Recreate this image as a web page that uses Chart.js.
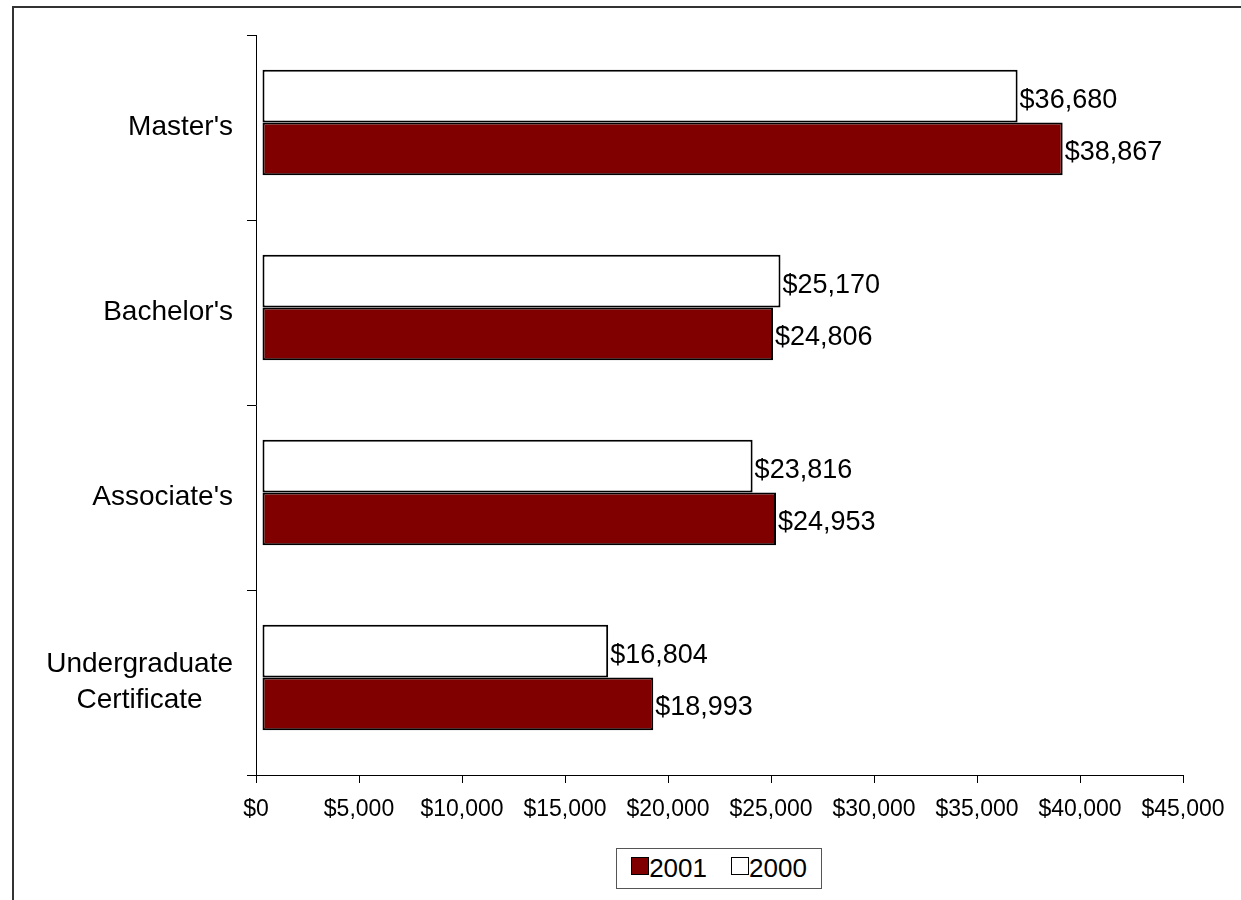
<!DOCTYPE html>
<html>
<head>
<meta charset="utf-8">
<title>Average salary by award level</title>
<script src="https://cdn.jsdelivr.net/npm/chart.js@4/dist/chart.umd.min.js"></script>
<style>
  html, body { margin: 0; padding: 0; background: #fff; }
  body { width: 1241px; height: 900px; overflow: hidden; position: relative; font-family: "Liberation Sans", Arial, sans-serif; }
  .frame { position: absolute; left: 12px; top: 6px; width: 1400px; height: 1200px; border-top: 2px solid #333; border-left: 2px solid #333; }
  #wrap { position: absolute; left: 0; top: 0; width: 1241px; height: 900px; }
  #legend { position: absolute; left: 616px; top: 848px; width: 204px; height: 39px; border: 1.5px solid #555; display: flex; align-items: center; justify-content: center; gap: 24px; background: #fff; }
  #legend .item { display: flex; align-items: center; font-size: 26px; color: #000; }
  #legend .swatch { width: 16px; height: 16px; border: 1.5px solid #000; margin-top: -6px; }
</style>
</head>
<body>
<div class="frame"></div>
<div id="wrap"><canvas id="salaryChart"></canvas></div>
<div id="legend"></div>
<script>
const categories = ["Master's", "Bachelor's", "Associate's", ["Undergraduate", "Certificate"]];
const salaries2000 = [36680, 25170, 23816, 16804];
const salaries2001 = [38867, 24806, 24953, 18993];
const xTicks = [0, 5000, 10000, 15000, 20000, 25000, 30000, 35000, 40000, 45000];

const FONT = '"Liberation Sans", Arial, sans-serif';

function money(v) {
  return "$" + Number(v).toLocaleString("en-US");
}

// category names, each line centred on the widest line, block right-aligned
const categoryLabels = {
  id: "categoryLabels",
  afterDraw(chart) {
    const yScale = chart.scales.y;
    const ctx = chart.ctx;
    ctx.save();
    ctx.font = "28px " + FONT;
    ctx.fillStyle = "#000";
    ctx.textAlign = "center";
    ctx.textBaseline = "middle";
    const right = yScale.right - 23;
    categories.forEach((label, i) => {
      const lines = Array.isArray(label) ? label : [label];
      const widest = Math.max(...lines.map((l) => ctx.measureText(l).width));
      const cx = right - widest / 2;
      const cy = yScale.getPixelForValue(i);
      lines.forEach((line, j) => {
        ctx.fillText(line, cx, cy + (j - (lines.length - 1) / 2) * 36);
      });
    });
    ctx.restore();
  },
};

// the original draws its bars nudged a little right and up from the axis;
// value labels sit at the end of each bar
const barsAndValues = {
  id: "barsAndValues",
  beforeDatasetsDraw(chart) {
    chart.ctx.save();
    chart.ctx.translate(6, -5);
  },
  afterDatasetsDraw(chart) {
    const ctx = chart.ctx;
    ctx.font = "27px " + FONT;
    ctx.fillStyle = "#000";
    ctx.textAlign = "left";
    ctx.textBaseline = "middle";
    chart.data.datasets.forEach((ds, di) => {
      chart.getDatasetMeta(di).data.forEach((bar, i) => {
        ctx.fillText(money(ds.data[i]), bar.x + 2, bar.y + 4);
      });
    });
    ctx.restore();
  },
};

const ctx = document.getElementById("salaryChart").getContext("2d");
const chart = new Chart(ctx, {
  type: "bar",
  data: {
    labels: categories,
    datasets: [
      {
        label: "2000",
        data: salaries2000,
        backgroundColor: "#FFFFFF",
        borderColor: "#000000",
        borderWidth: 2,
        borderSkipped: false,
      },
      {
        label: "2001",
        data: salaries2001,
        backgroundColor: "#800000",
        borderColor: "#000000",
        borderWidth: 2,
        borderSkipped: false,
      },
    ],
  },
  options: {
    indexAxis: "y",
    responsive: true,
    maintainAspectRatio: false,
    animation: false,
    categoryPercentage: 0.57,
    barPercentage: 1.0,
    layout: {
      padding: { top: 35, right: 58, bottom: 0, left: 0 },
    },
    plugins: {
      legend: { display: false },
      tooltip: { enabled: false },
    },
    scales: {
      x: {
        min: 0,
        max: 45000,
        afterBuildTicks: (scale) => {
          scale.ticks = xTicks.map((v) => ({ value: v }));
        },
        afterFit: (scale) => {
          scale.height = 125;
        },
        grid: {
          drawOnChartArea: false,
          drawTicks: true,
          tickLength: 8,
          color: "#000",
        },
        border: { color: "#000", width: 1 },
        ticks: {
          padding: 13,
          color: "#000",
          font: { family: FONT, size: 23 },
          maxRotation: 0,
          autoSkip: false,
          callback: (v) => money(v),
        },
      },
      y: {
        afterFit: (scale) => {
          scale.width = 256;
        },
        grid: {
          drawOnChartArea: false,
          drawTicks: true,
          tickLength: 9,
          offset: true,
          color: "#000",
        },
        border: { color: "#000", width: 1 },
        ticks: { display: false },
      },
    },
  },
  plugins: [categoryLabels, barsAndValues],
});

// legend: 2001 first, as in the original
const legend = document.getElementById("legend");
chart.data.datasets
  .slice()
  .reverse()
  .forEach((ds) => {
    const item = document.createElement("div");
    item.className = "item";
    const sw = document.createElement("span");
    sw.className = "swatch";
    sw.style.background = ds.backgroundColor;
    const txt = document.createElement("span");
    txt.textContent = ds.label;
    item.appendChild(sw);
    item.appendChild(txt);
    legend.appendChild(item);
  });
</script>
</body>
</html>
